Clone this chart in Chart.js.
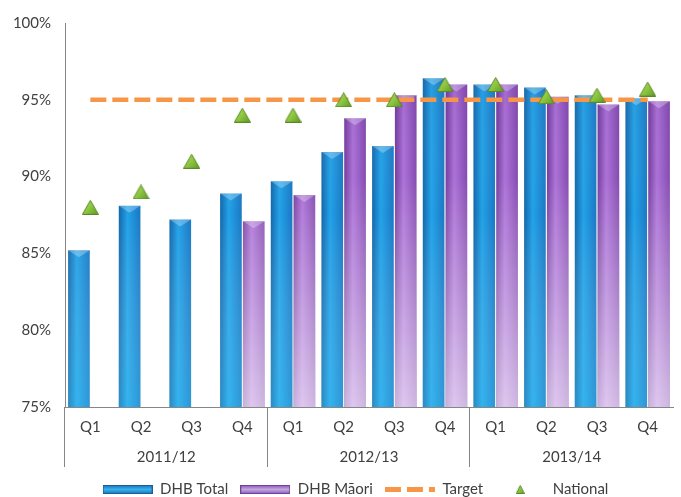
<!DOCTYPE html>
<html><head><meta charset="utf-8">
<script src="https://cdn.jsdelivr.net/npm/chart.js@4.4.1/dist/chart.umd.min.js"></script>
<style>html,body{margin:0;padding:0;background:#fff;overflow:hidden}</style>
</head><body>
<canvas id="c" width="683" height="497"></canvas>
<script>
const quarters = ['Q1','Q2','Q3','Q4','Q1','Q2','Q3','Q4','Q1','Q2','Q3','Q4'];
const years = ['2011/12','2012/13','2013/14'];
const dhbTotal = [85.2, 88.1, 87.2, 88.9, 89.7, 91.6, 92.0, 96.4, 96.0, 95.8, 95.3, 95.1];
const dhbMaori = [null, null, null, 87.1, 88.8, 93.8, 95.3, 96.0, 96.0, 95.2, 94.7, 94.9];
const target   = [95, 95, 95, 95, 95, 95, 95, 95, 95, 95, 95, 95];
const national = [88, 89, 91, 94, 94, 95, 95, 96, 96, 95.2, 95.3, 95.7];
const yTicks = [75, 80, 85, 90, 95, 100];

const FONT = 'Lato, "Liberation Sans", sans-serif';
const TXT = '#404040';
const AXIS = '#868686';
const CAT_PCT = 0.9, BAR_PCT = 0.95;

function barGradient(ctx, cols, slot) {
  const chart = ctx.chart, xs = chart.scales.x;
  if (ctx.type !== 'data' || !xs || !chart.chartArea) return cols[1];
  const cw = xs.width / quarters.length;
  const gw = cw * CAT_PCT, bw = gw / 2 * BAR_PCT;
  const cx = xs.getPixelForValue(ctx.dataIndex) + (slot === 0 ? -gw / 4 : gw / 4);
  const g = chart.ctx.createLinearGradient(cx - bw / 2, 0, cx + bw / 2, 0);
  g.addColorStop(0, cols[0]); g.addColorStop(0.4, cols[1]); g.addColorStop(1, cols[2]);
  return g;
}
const BLUE = ['#1466aa', '#22a2e8', '#1a78c4'];
const PURPLE = ['#6e3398', '#a86bd6', '#7e42ac'];

const shade = {
  id: 'shade',
  afterDatasetDraw(chart, args) {
    const ds = chart.data.datasets[args.index];
    if (ds.type !== 'bar') return;
    const c = chart.ctx, ca = chart.chartArea;
    const g = c.createLinearGradient(0, ca.top, 0, ca.bottom);
    if (ds.slot === 0) {
      g.addColorStop(0, 'rgba(10,50,120,0.12)');
      g.addColorStop(0.5, 'rgba(255,255,255,0)');
      g.addColorStop(1, 'rgba(90,220,255,0.3)');
    } else {
      g.addColorStop(0, 'rgba(50,10,90,0.12)');
      g.addColorStop(0.4, 'rgba(255,255,255,0.05)');
      g.addColorStop(1, 'rgba(255,255,255,0.62)');
    }
    c.save();
    c.beginPath(); c.rect(ca.left, ca.top, ca.right - ca.left, ca.bottom - ca.top); c.clip();
    args.meta.data.forEach(el => {
      const p = el.getProps(['x', 'y', 'base', 'width'], true);
      if (p.y == null || isNaN(p.y)) return;
      const l = p.x - p.width / 2;
      const b = Math.min(p.base, ca.bottom);
      c.fillStyle = g;
      c.fillRect(l, p.y, p.width, b - p.y);
      c.fillStyle = 'rgba(255,255,255,0.28)';
      c.beginPath(); c.moveTo(l, p.y); c.lineTo(l + p.width, p.y); c.lineTo(p.x, p.y + 7); c.closePath(); c.fill();
    });
    c.restore();
  }
};

const seps = {
  id: 'seps',
  afterDraw(chart) {
    const xs = chart.scales.x, x2 = chart.scales.x2, ca = chart.chartArea, c = chart.ctx;
    const per = quarters.length / years.length;
    c.save(); c.strokeStyle = AXIS; c.lineWidth = 1;
    for (let k = 0; k < years.length; k++) {
      const px = k === 0 ? ca.left : (xs.getPixelForValue(k * per - 1) + xs.getPixelForValue(k * per)) / 2;
      const xx = Math.round(px) - 0.5;
      c.beginPath(); c.moveTo(xx, ca.bottom); c.lineTo(xx, x2.bottom - 3); c.stroke();
    }
    c.restore();
  }
};

const legendShift = {
  id: 'legendShift',
  afterLayout(chart) { const lg = chart.legend; if (lg) { lg.left += 14; lg.right += 14; } }
};

function mk(w, h, draw) { const cv = document.createElement('canvas'); cv.width = w; cv.height = h; draw(cv.getContext('2d'), w, h); return cv; }
const legBlue = mk(50, 9, (c, w, h) => { const g = c.createLinearGradient(0, 0, 0, h); g.addColorStop(0, '#1a6fb4'); g.addColorStop(0.5, '#37b2f0'); g.addColorStop(1, '#1a6fb4'); c.fillStyle = g; c.fillRect(0, 0, w, h); c.strokeStyle = '#1b5e96'; c.strokeRect(0.5, 0.5, w - 1, h - 1); });
const legPurple = mk(50, 9, (c, w, h) => { const g = c.createLinearGradient(0, 0, 0, h); g.addColorStop(0, '#8a55b8'); g.addColorStop(0.5, '#c2a6e0'); g.addColorStop(1, '#8a55b8'); c.fillStyle = g; c.fillRect(0, 0, w, h); c.strokeStyle = '#70409a'; c.strokeRect(0.5, 0.5, w - 1, h - 1); });
const legTarget = mk(50, 5, (c, w, h) => { c.fillStyle = '#f79646'; c.fillRect(0, 0, 16, h); c.fillRect(22, 0, 16, h); c.fillRect(44, 0, 6, h); });
function tri(c, w, h) {
  const g = c.createLinearGradient(0, 0, w, h);
  g.addColorStop(0, '#b8e070'); g.addColorStop(0.5, '#8cc63f'); g.addColorStop(1, '#5e9526');
  c.fillStyle = g; c.strokeStyle = '#5a8a26'; c.lineWidth = 1;
  c.beginPath(); c.moveTo(w / 2, 0.5); c.lineTo(w - 0.5, h - 0.5); c.lineTo(0.5, h - 0.5); c.closePath(); c.fill(); c.stroke();
}
const legNat = mk(9, 9, tri);
const natMarker = mk(17, 15, tri);

const chart = new Chart(document.getElementById('c'), {
  data: {
    labels: quarters,
    datasets: [
      { type: 'scatter', label: 'National', data: national.map((v, i) => ({ x: i, y: v })), order: 0,
        pointStyle: natMarker, pointRadius: 9, pointHoverRadius: 9, showLine: false },
      { type: 'line', label: 'Target', data: target, order: 1, borderColor: '#f79646', borderWidth: 4.5, borderDash: [16, 6], pointRadius: 0, fill: false, tension: 0 },
      { type: 'bar', label: 'DHB Total', data: dhbTotal, order: 2, slot: 0, borderWidth: 0,
        backgroundColor: ctx => barGradient(ctx, BLUE, 0), categoryPercentage: CAT_PCT, barPercentage: BAR_PCT },
      { type: 'bar', label: 'DHB Māori', data: dhbMaori, order: 3, slot: 1, borderWidth: 0,
        backgroundColor: ctx => barGradient(ctx, PURPLE, 1), categoryPercentage: CAT_PCT, barPercentage: BAR_PCT }
    ]
  },
  options: {
    responsive: false, animation: false,
    layout: { padding: { top: 8, left: 0, right: 0, bottom: -10 } },
    plugins: {
      tooltip: { enabled: false },
      legend: {
        position: 'bottom',
        labels: {
          usePointStyle: true, pointStyleWidth: 50, padding: 12, color: TXT,
          font: { family: FONT, size: 15 },
          generateLabels: () => [
            { text: 'DHB Total', pointStyle: legBlue, fillStyle: 'transparent', strokeStyle: 'transparent', lineWidth: 0, hidden: false, datasetIndex: 2, fontColor: TXT },
            { text: 'DHB Māori', pointStyle: legPurple, fillStyle: 'transparent', strokeStyle: 'transparent', lineWidth: 0, hidden: false, datasetIndex: 3, fontColor: TXT },
            { text: 'Target', pointStyle: legTarget, fillStyle: 'transparent', strokeStyle: 'transparent', lineWidth: 0, hidden: false, datasetIndex: 1, fontColor: TXT },
            { text: 'National', pointStyle: legNat, fillStyle: 'transparent', strokeStyle: 'transparent', lineWidth: 0, hidden: false, datasetIndex: 0, fontColor: TXT }
          ]
        }
      }
    },
    scales: {
      x: { type: 'category', labels: quarters, position: 'bottom', offset: true,
        grid: { display: false, drawTicks: false }, border: { display: true, color: AXIS },
        ticks: { color: TXT, font: { family: FONT, size: 15 }, padding: 11, maxRotation: 0, autoSkip: false },
        afterFit: s => { s.height = 32; } },
      x2: { type: 'category', labels: years, position: 'bottom', offset: true,
        grid: { display: false, drawTicks: false }, border: { display: false },
        ticks: { color: TXT, font: { family: FONT, size: 15 }, padding: 9, maxRotation: 0, autoSkip: false },
        afterFit: s => { s.height = 31; } },
      y: { min: 75, max: 100,
        afterBuildTicks: s => { s.ticks = yTicks.map(v => ({ value: v })); },
        ticks: { callback: v => v + '%', padding: 14, color: TXT, font: { family: FONT, size: 15 } },
        grid: { display: false, drawTicks: false }, border: { display: true, color: AXIS },
        afterFit: s => { s.width = 65; } }
    }
  },
  plugins: [shade, seps, legendShift]
});
</script>
</body></html>
